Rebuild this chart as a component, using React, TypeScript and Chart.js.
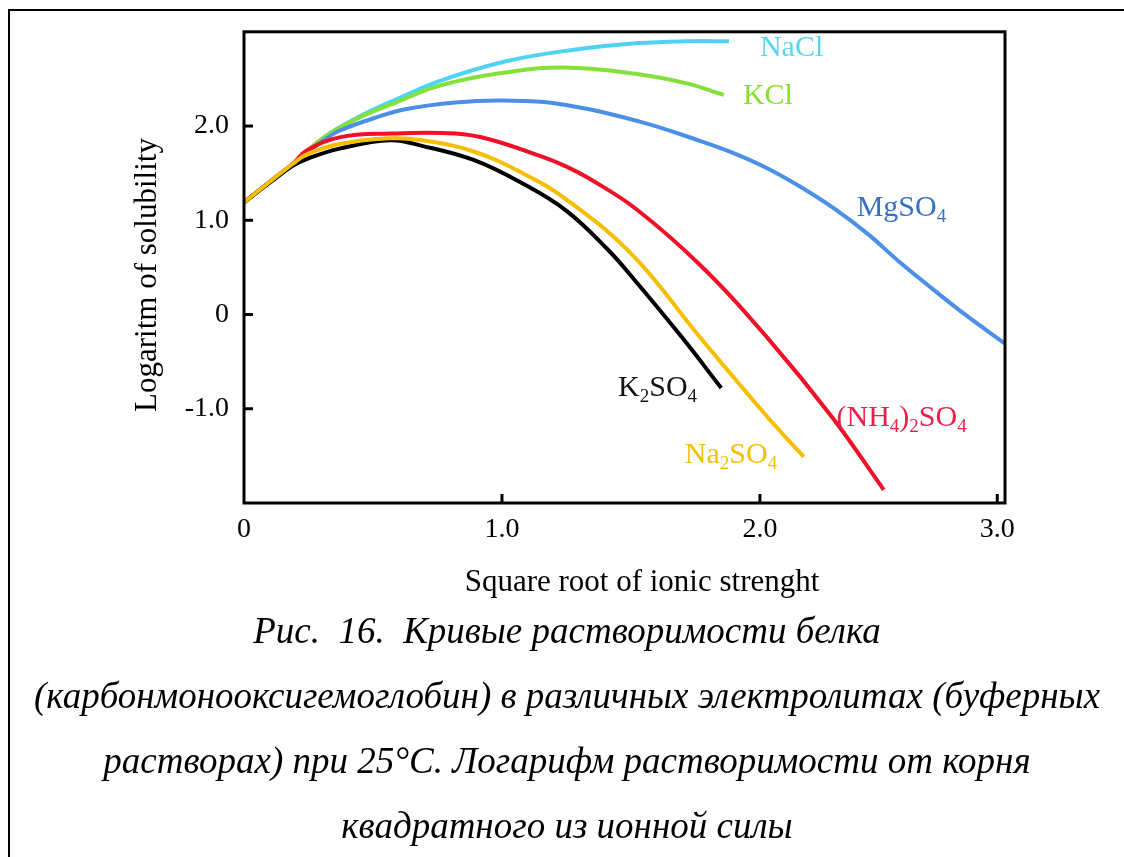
import React, { useEffect, useRef } from 'react';
import { Chart, registerables } from 'chart.js';

Chart.register(...registerables);

// ---- data (x = square root of ionic strength, y = log solubility) ----
const naclX = [0, 0.11, 0.19, 0.31, 0.44, 0.58, 0.76, 1.02, 1.28, 1.53, 1.72, 1.88];
const naclY = [1.19, 1.43, 1.6, 1.88, 2.09, 2.27, 2.48, 2.69, 2.81, 2.88, 2.9, 2.9];

const kclX = [0, 0.11, 0.19, 0.31, 0.44, 0.58, 0.76, 1.02, 1.24, 1.53, 1.72, 1.86];
const kclY = [1.19, 1.43, 1.6, 1.88, 2.08, 2.24, 2.43, 2.57, 2.62, 2.55, 2.45, 2.33];

const mgso4X = [0, 0.11, 0.19, 0.31, 0.37, 0.5, 0.63, 0.82, 1.0, 1.21, 1.53, 1.77, 1.9, 2.03, 2.16, 2.29, 2.42, 2.54, 2.67, 2.8, 2.95];
const mgso4Y = [1.19, 1.43, 1.6, 1.85, 1.95, 2.08, 2.18, 2.25, 2.27, 2.24, 2.05, 1.84, 1.71, 1.55, 1.35, 1.12, 0.85, 0.56, 0.27, -0.01, -0.31];

const nh4X = [0, 0.11, 0.19, 0.243, 0.37, 0.566, 0.82, 0.95, 1.15, 1.25, 1.34, 1.52, 1.77, 2.03, 2.28, 2.48];
const nh4Y = [1.19, 1.43, 1.6, 1.74, 1.88, 1.92, 1.92, 1.86, 1.68, 1.57, 1.44, 1.12, 0.52, -0.25, -1.09, -1.86];

const na2so4X = [0, 0.11, 0.19, 0.243, 0.37, 0.566, 0.69, 0.89, 1.08, 1.25, 1.51, 1.77, 2.03, 2.17];
const na2so4Y = [1.19, 1.43, 1.6, 1.7, 1.81, 1.87, 1.85, 1.73, 1.5, 1.22, 0.62, -0.25, -1.09, -1.51];

const k2so4X = [0, 0.11, 0.19, 0.243, 0.37, 0.566, 0.69, 0.89, 1.08, 1.25, 1.41, 1.51, 1.7, 1.85];
const k2so4Y = [1.19, 1.42, 1.58, 1.65, 1.76, 1.85, 1.79, 1.64, 1.39, 1.1, 0.69, 0.38, -0.25, -0.78];

// series labels: "_d" marks a subscript digit
const seriesNames = ['Na_2SO_4', 'K_2SO_4', '(NH_4)_2SO_4', 'MgSO_4', 'KCl', 'NaCl'];
const lineColors = ['#f7bd00', '#000000', '#f01028', '#4b90e6', '#84e03a', '#4fd3f2'];
const labelColors = ['#f2c200', '#111111', '#e8204a', '#3572c4', '#88e02c', '#55d6f2'];
const labelX = [1.709, 1.45, 2.297, 2.375, 1.934, 2.0];
const labelY = [-1.58, -0.86, -1.18, 1.05, 2.23, 2.74];

const xTickValues = [0, 1, 2, 2.92];
const xTickLabels = ['0', '1.0', '2.0', '3.0'];
const yTickValues = [-1, 0, 1, 2];
const yTickLabels = ['-1.0', '0', '1.0', '2.0'];

const xTitle = 'Square root of ionic strenght';
const yTitle = 'Logaritm of solubility';

const captionLines = [
  'Рис.  16.  Кривые растворимости белка',
  '(карбонмонооксигемоглобин) в различных электролитах (буферных',
  'растворах) при 25°С. Логарифм растворимости от корня',
  'квадратного из ионной силы',
];

const FONT = '"Liberation Serif", "Times New Roman", serif';

const zip = (xs: number[], ys: number[]) => xs.map((x, i) => ({ x, y: ys[i] }));
const seriesData = [
  zip(na2so4X, na2so4Y),
  zip(k2so4X, k2so4Y),
  zip(nh4X, nh4Y),
  zip(mgso4X, mgso4Y),
  zip(kclX, kclY),
  zip(naclX, naclY),
];

function drawRich(ctx: CanvasRenderingContext2D, x: number, y: number, str: string, size: number, color: string) {
  ctx.fillStyle = color;
  ctx.textAlign = 'left';
  ctx.textBaseline = 'alphabetic';
  let cx = x;
  let i = 0;
  while (i < str.length) {
    if (str[i] === '_') {
      const d = str[i + 1];
      ctx.font = `${Math.round(size * 0.62)}px ${FONT}`;
      ctx.fillText(d, cx, y + size * 0.2);
      cx += ctx.measureText(d).width;
      i += 2;
    } else {
      let j = i;
      while (j < str.length && str[j] !== '_') j++;
      const seg = str.slice(i, j);
      ctx.font = `${size}px ${FONT}`;
      ctx.fillText(seg, cx, y);
      cx += ctx.measureText(seg).width;
      i = j;
    }
  }
}

const decorPlugin = {
  id: 'decor',
  afterDatasetsDraw(chart: any) {
    const ctx: CanvasRenderingContext2D = chart.ctx;
    const { left, right, top, bottom } = chart.chartArea;
    const xs = chart.scales.x;
    const ys = chart.scales.y;
    ctx.save();
    // box
    ctx.strokeStyle = '#000';
    ctx.lineWidth = 3;
    ctx.strokeRect(left, top, right - left, bottom - top);
    // inward ticks
    xTickValues.forEach((v) => {
      if (v === 0) return;
      const px = xs.getPixelForValue(v);
      ctx.beginPath();
      ctx.moveTo(px, bottom);
      ctx.lineTo(px, bottom - 9);
      ctx.stroke();
    });
    yTickValues.forEach((v) => {
      const py = ys.getPixelForValue(v);
      ctx.beginPath();
      ctx.moveTo(left, py);
      ctx.lineTo(left + 9, py);
      ctx.stroke();
    });
    // series labels
    seriesNames.forEach((name, i) => {
      drawRich(ctx, xs.getPixelForValue(labelX[i]), ys.getPixelForValue(labelY[i]), name, 30, labelColors[i]);
    });
    // axis titles
    ctx.fillStyle = '#000';
    ctx.font = `31px ${FONT}`;
    ctx.textAlign = 'center';
    ctx.textBaseline = 'middle';
    ctx.fillText(xTitle, 642, 583);
    ctx.translate(148, 275);
    ctx.rotate(-Math.PI / 2);
    ctx.fillText(yTitle, 0, 0);
    ctx.restore();
  },
};

export default function App() {
  const ref = useRef<HTMLCanvasElement>(null);
  useEffect(() => {
    if (!ref.current) return;
    const chart = new Chart(ref.current, {
      type: 'line',
      data: {
        datasets: seriesData.map((d, i) => ({
          label: seriesNames[i],
          data: d,
          borderColor: lineColors[i],
          backgroundColor: lineColors[i],
          borderWidth: 4,
          pointRadius: 0,
          fill: false,
          tension: 0.4,
        })),
      },
      options: {
        responsive: false,
        animation: false,
        layout: { padding: { left: 0, top: 26, right: 119, bottom: 0 } },
        plugins: { legend: { display: false }, tooltip: { enabled: false } },
        scales: {
          x: {
            type: 'linear',
            min: 0,
            max: 2.95,
            grid: { display: false, drawTicks: false },
            border: { display: false },
            afterBuildTicks: (s: any) => {
              s.ticks = xTickValues.map((v) => ({ value: v }));
            },
            afterFit: (s: any) => {
              s.height = 107;
            },
            ticks: {
              padding: 10,
              color: '#000',
              font: { family: FONT, size: 28 },
              maxRotation: 0,
              autoSkip: false,
              callback: (_v: any, i: number) => xTickLabels[i],
            },
          },
          y: {
            type: 'linear',
            min: -2,
            max: 3,
            grid: { display: false, drawTicks: false },
            border: { display: false },
            afterBuildTicks: (s: any) => {
              s.ticks = yTickValues.map((v) => ({ value: v }));
            },
            afterFit: (s: any) => {
              s.width = 244;
            },
            ticks: {
              padding: 15,
              color: '#000',
              font: { family: FONT, size: 28 },
              autoSkip: false,
              callback: (_v: any, i: number) => yTickLabels[i],
            },
          },
        },
      },
      plugins: [decorPlugin],
    });
    return () => chart.destroy();
  }, []);

  return (
    <div style={{ position: 'absolute', left: 0, top: 0, width: 1124, height: 857, background: '#fff', overflow: 'hidden' }}>
      <div
        style={{
          position: 'absolute',
          left: 8,
          top: 9,
          width: 1130,
          height: 860,
          borderLeft: '2px solid #000',
          borderTop: '2px solid #000',
        }}
      />
      <canvas ref={ref} width={1124} height={610} style={{ position: 'absolute', left: 0, top: 0, width: 1124, height: 610 }} />
      {captionLines.map((t, i) => (
        <div
          key={i}
          style={{
            position: 'absolute',
            left: 10,
            width: 1114,
            top: 598 + i * 65,
            height: 65,
            lineHeight: '65px',
            textAlign: 'center',
            whiteSpace: 'pre',
            fontFamily: FONT,
            fontStyle: 'italic',
            fontSize: 37,
            color: '#000',
          }}
        >
          {t}
        </div>
      ))}
    </div>
  );
}
